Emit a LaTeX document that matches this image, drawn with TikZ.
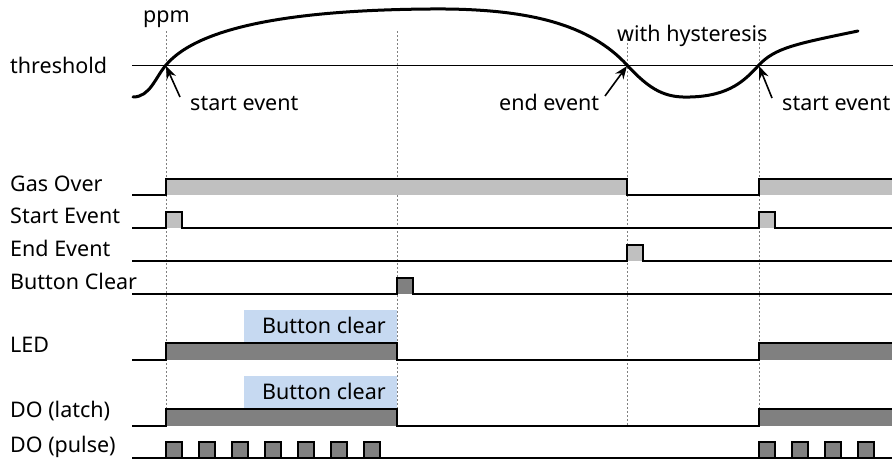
\documentclass[tikz,border=0pt]{standalone}
\usepackage{fontspec}
\setmainfont{Noto Sans}
\usetikzlibrary{arrows.meta}
\definecolor{lightfill}{HTML}{C0C0C0}
\definecolor{darkfill}{HTML}{808080}
\definecolor{clearbox}{HTML}{C6D9F1}
\begin{document}
\begin{tikzpicture}[x=1pt,y=-1pt,
  lbl/.style={anchor=base west, inner sep=0pt, font=\fontsize{21.5}{24}\selectfont},
  boxtxt/.style={anchor=base, inner sep=0pt, font=\fontsize{21.5}{24}\selectfont},
  sig/.style={line width=1.4pt, line join=miter},
  guide/.style={draw=gray, line width=0.8pt, dash pattern=on 2pt off 2pt},
  ptr/.style={line width=1.6pt, -{Stealth[length=13pt,width=10pt]}},
  gascurve/.style={line width=3pt, line cap=round},
  thr/.style={line width=1pt}]
\useasboundingbox (0,0) rectangle (896,461);
% guides
\foreach \gx in {166,397,627,759} \draw[guide] (\gx,31) -- (\gx,426);
% threshold
\draw[thr] (132,65) -- (893,65);
% gas curve
\draw[gascurve] (133,97) .. controls (150,97) and (155,78) .. (166,65)
  .. controls (200,25) and (300,10) .. (430,9)
  .. controls (530,8) and (590,25) .. (627,65)
  .. controls (650,90) and (665,98) .. (690,97)
  .. controls (730,96) and (745,80) .. (759,65)
  .. controls (775,48) and (795,44) .. (858,31);
% labels top
\node[lbl] (ppm) at (143,22) {ppm};
\node[lbl] (thrl) at (10,73) {threshold};
\node[lbl] (hyst) at (617,41) {with hysteresis};
\node[lbl] (se1) at (190,110) {start event};
\node[lbl] (ee) at (499,110) {end event};
\node[lbl] (se2) at (782,110) {start event};
\coordinate (c1) at (166,66);
\coordinate (c2) at (627,66);
\coordinate (c3) at (759,66);
\coordinate (t1) at (180,97);
\coordinate (t2) at (605,96);
\coordinate (t3) at (772,98);
\draw[ptr] (t1) -- (c1);
\draw[ptr] (t2) -- (c2);
\draw[ptr] (t3) -- (c3);
% row labels
\node[lbl] (lgas) at (10,191) {Gas Over};
\node[lbl] (lse) at (10,223) {Start Event};
\node[lbl] (lee) at (10,256) {End Event};
\node[lbl] (lbc) at (10,289) {Button Clear};
\node[lbl] (lled) at (10,352) {LED};
\node[lbl] (llat) at (10,417) {DO (latch)};
\node[lbl] (lpul) at (10,452) {DO (pulse)};
% Gas Over
\fill[lightfill] (166,179) rectangle (627,195);
\fill[lightfill] (759,179) rectangle (892,195);
\draw[sig] (132,195) -- (166,195) -- (166,179) -- (627,179) -- (627,195) -- (759,195) -- (759,179) -- (892,179);
% Start Event
\fill[lightfill] (166,212) rectangle (182,228);
\fill[lightfill] (759,212) rectangle (775,228);
\draw[sig] (132,228) -- (166,228) -- (166,212) -- (182,212) -- (182,228) -- (759,228) -- (759,212) -- (775,212) -- (775,228) -- (892,228);
% End Event
\fill[lightfill] (627,245) rectangle (643,261);
\draw[sig] (132,261) -- (627,261) -- (627,245) -- (643,245) -- (643,261) -- (892,261);
% Button Clear
\fill[darkfill] (397,278) rectangle (413,294);
\draw[sig] (132,294) -- (397,294) -- (397,278) -- (413,278) -- (413,294) -- (892,294);
% LED
\fill[clearbox] (244,310) rectangle (397,343);
\node[boxtxt] (bc1) at (324,333) {Button clear};
\fill[darkfill] (166,343) rectangle (397,360);
\fill[darkfill] (759,343) rectangle (892,360);
\draw[sig] (132,360) -- (166,360) -- (166,343) -- (397,343) -- (397,360) -- (759,360) -- (759,343) -- (892,343);
% DO latch
\fill[clearbox] (244,376) rectangle (397,409);
\node[boxtxt] (bc2) at (324,399) {Button clear};
\fill[darkfill] (166,409) rectangle (397,426);
\fill[darkfill] (759,409) rectangle (892,426);
\draw[sig] (132,426) -- (166,426) -- (166,409) -- (397,409) -- (397,426) -- (759,426) -- (759,409) -- (892,409);
% DO pulse
\foreach \px in {166,199,232,265,298,331,364,759,792,825,858}{
  \fill[darkfill] (\px,442) rectangle ({\px+16},458);
  \draw[sig] (\px,458) -- (\px,442) -- ({\px+16},442) -- ({\px+16},458);
}
\draw[sig] (132,458) -- (892,458);
\end{tikzpicture}
\end{document}
